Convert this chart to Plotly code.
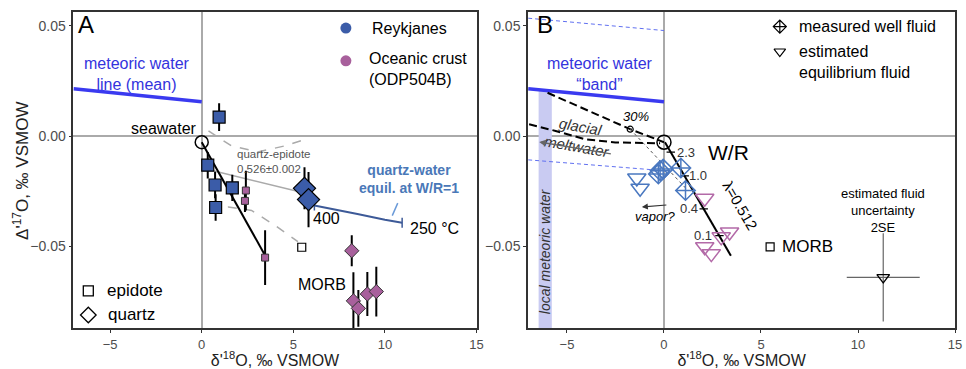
import plotly.graph_objects as go

# ---------------- Panel A data ----------------
rk_ep_x = [0.95, 0.33, 0.73, 0.76, 1.67]
rk_ep_y = [0.0087, -0.0131, -0.0221, -0.0323, -0.0234]
rk_ep_e = [0.0063, 0.006, 0.006, 0.006, 0.006]

odp_ep_x = [2.41, 2.36, 3.46]
odp_ep_y = [-0.0246, -0.0293, -0.0550]
odp_ep_e = [0.009, 0.005, 0.0124]

rk_qz_x = [5.61, 5.83]
rk_qz_y = [-0.0236, -0.0287]
rk_qz_e = [0.0095, 0.0125]

odp_qz_x = [8.19, 8.28, 8.55, 9.04, 9.53]
odp_qz_y = [-0.0519, -0.0746, -0.0780, -0.0715, -0.0704]
odp_qz_e = [0.007, 0.013, 0.0083, 0.010, 0.0113]

seawater = (0.0, -0.0027)
morb_ep = (5.46, -0.0503)

mwl_x = [-7.0, 0.0]
mwl_y = [0.0215, 0.0156]

mix_x = [0.0, 3.46]
mix_y = [-0.0027, -0.0540]

qe_x = [0.30, 5.61]
qe_y = [-0.0150, -0.0257]

qe_up_x = [0.37, 1.63, 3.08, 4.52, 5.79]
qe_up_y = [0.0024, -0.0044, -0.0071, -0.0044, -0.0010]
qe_lo_x = [0.45, 1.45, 2.72, 3.98, 5.25]
qe_lo_y = [-0.0329, -0.0321, -0.0336, -0.0403, -0.0478]

qw_x = [6.15, 7.0, 8.5, 10.0, 10.94]
qw_y = [-0.0314, -0.0327, -0.0352, -0.0378, -0.0392]

# ---------------- Panel B data ----------------
band_up_x = [-7.0, 0.0]
band_up_y = [0.0535, 0.0479]
band_lo_x = [-7.0, 0.0]
band_lo_y = [-0.0107, -0.0156]

local_mw_x = [-6.46, -5.78]
local_mw_y = [0.0213, -0.087]

mix30_x = [-6.0, -1.74, 0.0]
mix30_y = [0.0197, 0.0032, -0.0027]
glacial_x = [-6.95, -5.58, -4.04, -2.51, -0.2]
glacial_y = [0.0054, 0.0024, -0.0014, -0.0028, -0.0032]
dot30_x = [-1.74, 1.16]
dot30_y = [0.0032, -0.0239]

lam_x = [0.05, 3.45]
lam_y = [-0.0027, -0.0542]
wr_labels = ["2.3", "1.0", "0.4", "0.1"]
wr_tick_x = [0.35, 1.07, 2.05, 2.86]
wr_tick_y = [-0.0072, -0.0180, -0.0329, -0.0450]
wr_lab_x = [1.16, 1.74, 1.28, 1.99]
wr_lab_y = [-0.0072, -0.0180, -0.0329, -0.0450]

well_x = [-0.2, -0.04, -0.29, 0.87, 1.11]
well_y = [-0.0156, -0.0149, -0.0171, -0.0144, -0.0246]

eq_rk_x = [-1.40, -1.23]
eq_rk_y = [-0.0189, -0.0236]
eq_odp_x = [2.10, 3.38, 2.95, 2.10, 2.44]
eq_odp_y = [-0.0281, -0.0434, -0.0456, -0.0501, -0.0532]

morb_b = (5.47, -0.0501)
unc_pt = (11.3, -0.064)
unc_ex = 1.88
unc_ey = 0.020

BLUE = "#3b5ca8"
PURP = "#a8609c"
LBLUE = "#4a78c0"
LPURP = "#b36aa8"
MWLC = "#3a3af0"
FONT = "Liberation Sans, Arial, sans-serif"

fig = go.Figure()

def line(x, y, xa, ya, color, width, dash="solid"):
    fig.add_trace(go.Scatter(x=x, y=y, mode="lines", xaxis=xa, yaxis=ya,
                             line=dict(color=color, width=width, dash=dash),
                             hoverinfo="skip"))

# ---- Panel A ----
line(mwl_x, mwl_y, "x", "y", MWLC, 3.5)
line(qe_up_x, qe_up_y, "x", "y", "#aaaaaa", 1.5, "dash")
line(qe_lo_x, qe_lo_y, "x", "y", "#aaaaaa", 1.5, "dash")
line(qe_x, qe_y, "x", "y", "#aaaaaa", 1.5)
line(mix_x, mix_y, "x", "y", "black", 2)
line(qw_x, qw_y, "x", "y", "#3d5a98", 2)
fig.add_trace(go.Scatter(x=[qw_x[0], qw_x[-1]], y=[qw_y[0], qw_y[-1]], mode="markers",
                         xaxis="x", yaxis="y",
                         marker=dict(symbol="line-ns", size=7, line=dict(color="#3d5a98", width=1.5))))
line([10.7, 10.4], [-0.0303, -0.0360], "x", "y", "#6a9ad8", 1.5)

def pts(x, y, e, xa, ya, sym, size, color, lw=1, lc="black"):
    fig.add_trace(go.Scatter(
        x=x, y=y, mode="markers", xaxis=xa, yaxis=ya,
        error_y=dict(type="data", array=e, color="black", thickness=2, width=0) if e else None,
        marker=dict(symbol=sym, size=size, color=color, line=dict(color=lc, width=lw))))

pts(odp_ep_x, odp_ep_y, odp_ep_e, "x", "y", "square", 7, PURP, 1, "#333")
pts(odp_qz_x, odp_qz_y, odp_qz_e, "x", "y", "diamond", 11, PURP, 1, "#333")
pts(rk_ep_x, rk_ep_y, rk_ep_e, "x", "y", "square", 12, BLUE, 1.2)
pts(rk_qz_x, rk_qz_y, rk_qz_e, "x", "y", "diamond", 17, BLUE, 1.2)
pts([seawater[0]], [seawater[1]], None, "x", "y", "circle-open", 13, "black", 1.5)
pts([morb_ep[0]], [morb_ep[1]], None, "x", "y", "square-open", 8, "black", 1.2)

# legend icons (panel A)
pts([7.87], [0.049], None, "x", "y", "circle", 11, BLUE, 0)
pts([7.87], [0.0342], None, "x", "y", "circle", 11, PURP, 0)
pts([-6.19], [-0.0701], None, "x", "y", "square-open", 10, "black", 1.3)
pts([-6.19], [-0.0810], None, "x", "y", "diamond-open", 12, "black", 1.3)

# ---- Panel B ----
bx = [local_mw_x[0], local_mw_x[1], local_mw_x[1], local_mw_x[0], local_mw_x[0]]
by = [local_mw_y[0], local_mw_y[0], local_mw_y[1], local_mw_y[1], local_mw_y[0]]
fig.add_trace(go.Scatter(x=bx, y=by, mode="lines", fill="toself", fillcolor="#c9cbf2",
                         line=dict(width=0, color="#c9cbf2"), xaxis="x2", yaxis="y2"))
line(band_up_x, band_up_y, "x2", "y2", "#6070f0", 1, "4px,3px")
line(band_lo_x, band_lo_y, "x2", "y2", "#6070f0", 1, "4px,3px")
line(mwl_x, mwl_y, "x2", "y2", MWLC, 3.5)
line(mix30_x, mix30_y, "x2", "y2", "black", 2, "8px,4px")
line(glacial_x, glacial_y, "x2", "y2", "black", 2, "8px,4px")
line(dot30_x, dot30_y, "x2", "y2", "#555555", 1, "dot")
line(lam_x, lam_y, "x2", "y2", "black", 2)
pts(wr_tick_x, wr_tick_y, None, "x2", "y2", "line-ew", 6, "black", 1.2)
pts([mix30_x[1]], [mix30_y[1]], None, "x2", "y2", "circle-open", 6, "black", 1.2)
pts([0.0], [seawater[1]], None, "x2", "y2", "circle-open", 14, "black", 1.5)
pts(eq_rk_x, eq_rk_y, None, "x2", "y2", "triangle-down-open", 16, LBLUE, 1.5, LBLUE)
pts(eq_odp_x, eq_odp_y, None, "x2", "y2", "triangle-down-open", 16, LPURP, 1.5, LPURP)
pts(well_x, well_y, None, "x2", "y2", "diamond-cross-open", 15, LBLUE, 1.5, LBLUE)
pts([morb_b[0]], [morb_b[1]], None, "x2", "y2", "square-open", 8, "black", 1.2)
fig.add_trace(go.Scatter(
    x=[unc_pt[0]], y=[unc_pt[1]], mode="markers", xaxis="x2", yaxis="y2",
    error_x=dict(type="data", array=[unc_ex], color="#666", thickness=1.2, width=0),
    error_y=dict(type="data", array=[unc_ey], color="#666", thickness=1.2, width=0),
    marker=dict(symbol="triangle-down-open", size=11, color="black", line=dict(width=1.3))))
pts([5.97], [0.0497], None, "x2", "y2", "diamond-cross-open", 10, "black", 1.2)
pts([5.97], [0.0384], None, "x2", "y2", "triangle-down-open", 10, "black", 1.2)

ann = []
def txt(x, y, t, xr, yr, size=16, color="black", xanchor="center", angle=0, **kw):
    ann.append(dict(x=x, y=y, xref=xr, yref=yr, text=t, showarrow=False,
                    xanchor=xanchor, yanchor="middle", textangle=angle,
                    font=dict(size=size, color=color, family=FONT), **kw))

# Panel A texts
txt(-6.88, 0.0505, "A", "x", "y", 24, xanchor="left")
txt(-3.53, 0.0284, "meteoric water<br>line (mean)", "x", "y", 16, "#3333dd")
txt(-0.15, 0.0035, "seawater", "x", "y", 16, xanchor="right")
txt(1.83, -0.0113, "quartz-epidote<br>0.526±0.002", "x", "y", 11.5, "#555555", xanchor="left", align="left")
txt(11.3, -0.0196, "<b>quartz-water<br>equil. at W/R=1</b>", "x", "y", 14, "#4a78b8")
txt(5.96, -0.0374, "400", "x", "y", 16, xanchor="left")
txt(11.25, -0.0419, "250 °C", "x", "y", 16, xanchor="left")
txt(8.0, -0.0671, "MORB", "x", "y", 16, xanchor="right")
txt(-5.3, -0.0701, "epidote", "x", "y", 17, xanchor="left")
txt(-5.2, -0.0810, "quartz", "x", "y", 17, xanchor="left")
txt(9.19, 0.049, "Reykjanes", "x", "y", 16, xanchor="left")
txt(9.04, 0.0306, "Oceanic crust<br>(ODP504B)", "x", "y", 16, xanchor="left", align="left")

# y-axis title of panel A
txt(21 / 966, 1 - 172 / 369, "Δ'<sup>17</sup>O, ‰ VSMOW", "paper", "paper", 17, "#222", angle=-90)

# Panel B texts
txt(-6.65, 0.0505, "B", "x2", "y2", 24, xanchor="left")
txt(-3.3, 0.0284, "meteoric water<br>“band”", "x2", "y2", 16, "#3333dd")
txt(-6.12, -0.052, "<i>local meteoric water</i>", "x2", "y2", 14, "#333333", angle=-90)
txt(-1.43, 0.009, "<i>30%</i>", "x2", "y2", 13)
txt(-4.3, 0.0045, "<i>glacial</i>", "x2", "y2", 15, "#333333", angle=10)
txt(-4.47, -0.0045, "<i>meltwater</i>", "x2", "y2", 15, "#333333", angle=10)
txt(2.18, -0.0072, "W/R", "x2", "y2", 21, xanchor="left")
for lx, ly, lt in zip(wr_lab_x, wr_lab_y, wr_labels):
    txt(lx, ly, lt, "x2", "y2", 13, "#333333")
txt(3.92, -0.0315, "λ=0.512", "x2", "y2", 15, angle=60)
txt(-0.46, -0.0365, "<i>vapor?</i>", "x2", "y2", 13)
txt(6.0, -0.0501, "MORB", "x2", "y2", 17, xanchor="left")
txt(11.3, -0.0338, "estimated fluid<br>uncertainty<br>2SE", "x2", "y2", 13)
txt(6.85, 0.0497, "measured well fluid", "x2", "y2", 16, xanchor="left")
txt(6.85, 0.0338, "estimated<br>equilibrium fluid", "x2", "y2", 16, xanchor="left", align="left")

# arrows
ann.append(dict(x=-6.43, y=-0.0026, ax=-2.66, ay=-0.0081, xref="x2", yref="y2", axref="x2", ayref="y2",
                showarrow=True, arrowhead=2, arrowsize=1, arrowwidth=1.3, arrowcolor="#666666", text=""))
ann.append(dict(x=-1.14, y=-0.0321, ax=0.2, ay=-0.0311, xref="x2", yref="y2", axref="x2", ayref="y2",
                showarrow=True, arrowhead=2, arrowsize=1, arrowwidth=1.2, arrowcolor="#333333", text=""))

W, H = 966, 369
def xax(d0, d1, anchor):
    return dict(domain=[d0 / W, d1 / W], range=[-7, 15], anchor=anchor,
                tickvals=[-5, 0, 5, 10, 15], ticktext=["−5", "0", "5", "10", "15"],
                ticks="outside", ticklen=3, tickcolor="#333", tickwidth=1,
                showline=True, mirror=True, linecolor="#333", linewidth=1.8,
                showgrid=False, zeroline=True, zerolinecolor="#aaaaaa", zerolinewidth=1.5,
                tickfont=dict(size=13, color="#4d4d4d", family=FONT),
                title=dict(text="δ'<sup>18</sup>O, ‰ VSMOW", standoff=6,
                           font=dict(size=16, color="#222", family=FONT)))

def yax(anchor):
    return dict(domain=[39 / H, 356.7 / H], range=[-0.087, 0.0562], anchor=anchor,
                tickvals=[-0.05, 0, 0.05], ticktext=["−0.05", "0.00", "0.05"],
                ticks="outside", ticklen=3, tickcolor="#333", tickwidth=1,
                showline=True, mirror=True, linecolor="#333", linewidth=1.8,
                showgrid=False, zeroline=True, zerolinecolor="#aaaaaa", zerolinewidth=1.5,
                tickfont=dict(size=14, color="#4d4d4d", family=FONT))

fig.update_layout(
    width=W, height=H, margin=dict(l=0, r=0, t=0, b=0),
    paper_bgcolor="white", plot_bgcolor="white", showlegend=False,
    xaxis=xax(74, 480, "y"), yaxis=yax("x"),
    xaxis2=xax(532, 962, "y2"), yaxis2=yax("x2"),
    annotations=ann, font=dict(family=FONT),
)

fig.write_html("out.html")
